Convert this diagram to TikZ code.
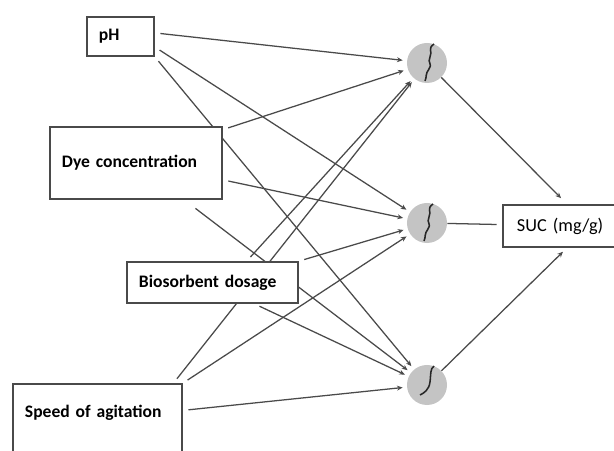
\documentclass[tikz,border=0pt]{standalone}
\usepackage{fontspec}
\setmainfont{Carlito}
\usepackage{tikz}
\usetikzlibrary{arrows.meta,positioning,calc}
\pgfdeclarelayer{edgelayer}
\pgfsetlayers{edgelayer,main}
\definecolor{linegray}{HTML}{4A4A4A}
\definecolor{cellgray}{HTML}{C4C4C4}
\tikzset{
  inbox/.style={rectangle,draw=linegray,fill=white,line width=1.2pt,align=left,
    inner xsep=0.3cm,font=\bfseries\fontsize{12.5}{15}\selectfont},
  outbox/.style={rectangle,draw=linegray,fill=white,line width=1.2pt,align=left,
    inner xsep=0.35cm,font=\fontsize{13}{15}\selectfont},
  neuron/.style={circle,fill=cellgray,draw=none,minimum size=1cm,inner sep=0pt},
  wave/.style={draw=black!85,line width=1.1pt},
  link/.style={draw=linegray,line width=0.9pt,-{Stealth[length=4pt,width=3.5pt]},
    shorten <=4pt,shorten >=3pt}
}
\begin{document}
\begin{tikzpicture}[x=0.025cm,y=-0.025cm]
\clip (0,0) rectangle (614,451);
% inputs
\node (ph) [inbox,text width=1.075cm,minimum height=0.975cm] at (120.5,36.5) {pH};
\node (dye) [inbox,text width=3.7cm,minimum height=1.8cm] at (136,163) {Dye concentration};
\node (bio) [inbox,text width=3.675cm,minimum height=1.025cm] at (212.5,282.5) {Biosorbent dosage};
\node (speed) [inbox,text width=3.625cm,inner ysep=0.2cm,text height=0.64cm,text depth=1.11cm] at (97.5,427) {Speed of agitation};
% hidden layer
\node (h1) [neuron] at (427,63) {};
\node (h2) [neuron] at (427,223) {};
\node (h3) [neuron] at (427,385) {};
\draw[wave] (h1) ++(7,-19) .. controls +(-7,5) and +(3,-6) .. ++(-4,13) .. controls +(-3,6) and +(4,-5) .. ++(-1,12) .. controls +(-4,5) and +(2,-4) .. ++(-4,12);
\draw[wave] (h2) ++(6,-19) .. controls +(-7,5) and +(3,-6) .. ++(-4,13) .. controls +(-3,6) and +(4,-5) .. ++(-1,12) .. controls +(-4,5) and +(2,-4) .. ++(-4,12);
\draw[wave] (h3) ++(7,-19) .. controls +(-4,3) and +(1,-8) .. ++(-4,16) .. controls +(-1,8) and +(4,-2) .. ++(-10,13);
% output
\node (suc) [outbox,text width=2.5cm,minimum height=1.05cm] at (567,226) {SUC (mg/g)};
\begin{pgfonlayer}{edgelayer}
\draw[link] (ph.6) -- (h1);
\draw[link] (ph.-17) -- (h2);
\draw[link] (ph.south east) -- (h3);
\draw[link] (dye.21) -- (h1);
\draw[link] (dye.-11) -- (h2);
\draw[link,shorten <=10pt] (dye) -- (h3);
\draw[link] (bio.32) -- (h1);
\draw[link] (bio.north east) -- (h2);
\draw[link] (bio.-27) -- (h3);
\draw[link] (speed.30) -- (h1);
\draw[link] (speed.north east) -- (h2);
\draw[link] (speed.11) -- (h3);
\draw[link,shorten <=0pt,shorten >=6pt] (h1) -- (suc.north);
\draw[link,shorten <=0pt,shorten >=4pt,-] (h2) -- (suc);
\draw[link,shorten <=0pt,shorten >=4pt] (h3) -- (suc.south);
\end{pgfonlayer}
\end{tikzpicture}
\end{document}
